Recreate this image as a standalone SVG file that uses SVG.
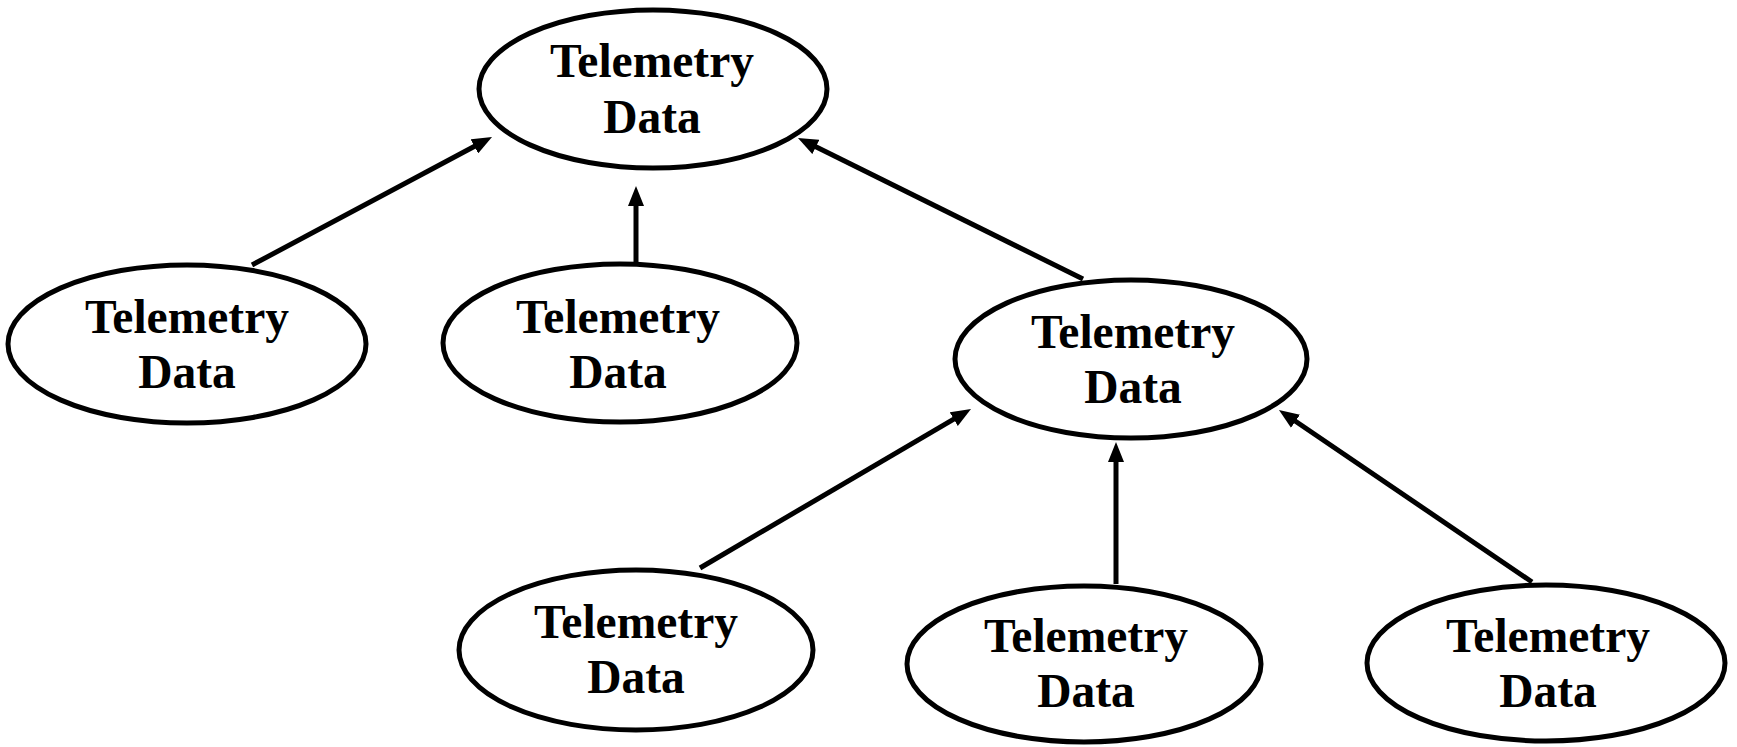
<svg xmlns="http://www.w3.org/2000/svg" width="1737" height="747" viewBox="0 0 1737 747">
<style>
.node ellipse{fill:#fff;stroke:#000;stroke-width:5}
.node text{font-family:"Liberation Serif","Times New Roman",serif;font-weight:bold;font-size:47.5px;fill:#000;text-anchor:middle}
.edge{stroke:#000;stroke-width:5;fill:none;marker-end:url(#arr)}
</style>
<defs>
<marker id="arr" viewBox="0 0 20 16" refX="4" refY="8" markerWidth="20" markerHeight="16" markerUnits="userSpaceOnUse" orient="auto">
<path d="M0,0 L20,8 L0,16 Z" fill="#000"/>
</marker>
</defs>
<rect width="1737" height="747" fill="#fff"/>
<g id="connectors">
<line class="edge" x1="252" y1="265" x2="477.9" y2="144.5"/>
<line class="edge" x1="636" y1="264" x2="636" y2="202"/>
<line class="edge" x1="1083" y1="279" x2="812.3" y2="145.1"/>
<line class="edge" x1="700" y1="568" x2="957.2" y2="417.1"/>
<line class="edge" x1="1116" y1="584" x2="1116" y2="458"/>
<line class="edge" x1="1532" y1="582" x2="1292.2" y2="419"/>
</g>
<g id="node-top" class="node">
<ellipse cx="653" cy="89" rx="174" ry="79"/>
<text x="652" y="77">Telemetry</text>
<text x="652" y="133">Data</text>
</g>
<g id="node-left" class="node">
<ellipse cx="187" cy="344" rx="179" ry="79"/>
<text x="187" y="333">Telemetry</text>
<text x="187" y="388">Data</text>
</g>
<g id="node-middle" class="node">
<ellipse cx="620" cy="343" rx="177" ry="79"/>
<text x="618" y="333">Telemetry</text>
<text x="618" y="388">Data</text>
</g>
<g id="node-right" class="node">
<ellipse cx="1131" cy="359" rx="176" ry="79"/>
<text x="1133" y="348">Telemetry</text>
<text x="1133" y="403">Data</text>
</g>
<g id="node-bottom-left" class="node">
<ellipse cx="636" cy="650" rx="177" ry="80"/>
<text x="636" y="638">Telemetry</text>
<text x="636" y="693">Data</text>
</g>
<g id="node-bottom-middle" class="node">
<ellipse cx="1084" cy="664" rx="177" ry="78"/>
<text x="1086" y="652">Telemetry</text>
<text x="1086" y="707">Data</text>
</g>
<g id="node-bottom-right" class="node">
<ellipse cx="1546" cy="663" rx="179" ry="78"/>
<text x="1548" y="652">Telemetry</text>
<text x="1548" y="707">Data</text>
</g>
</svg>
